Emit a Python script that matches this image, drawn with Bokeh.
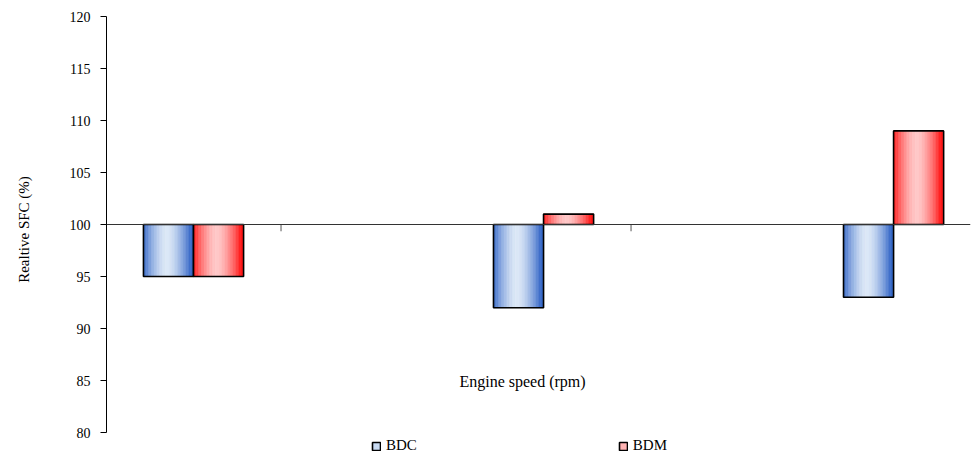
import numpy as np
from bokeh.plotting import figure
from bokeh.models import (Range1d, FixedTicker, Legend, LegendItem,
                          Label, ColumnDataSource, Span)
from bokeh.embed import file_html
from bokeh.resources import INLINE

# ---- data ----
categories = ["1", "2", "3"]          # engine speed groups (no labels shown)
bdc = [95, 92, 93]
bdm = [95, 101, 109]
baseline = 100
y_ticks = [80, 85, 90, 95, 100, 105, 110, 115, 120]
series_names = ["BDC", "BDM"]

FONT = "Liberation Serif"
BAR_W = 0.143
N_STRIPS = 32

# frame covers the whole page height; the y axis itself is bounded to 80..120
p = figure(width=973, height=458, output_backend="svg", toolbar_location=None,
           x_range=Range1d(-0.2486, 2.2198), y_range=Range1d(77.5, 121.54),
           x_axis_location=None, min_border_left=106, min_border_right=3,
           min_border_top=0, min_border_bottom=0)
p.outline_line_color = None
p.grid.visible = False
p.background_fill_color = "white"

# y axis
ya = p.yaxis[0]
ya.bounds = (y_ticks[0], y_ticks[-1])
ya.ticker = FixedTicker(ticks=y_ticks)
ya.minor_tick_line_color = None
ya.major_tick_in = 0
ya.major_tick_out = 6
ya.major_label_standoff = 10
ya.axis_line_color = "black"
ya.major_tick_line_color = "black"
ya.major_label_text_font = FONT
ya.major_label_text_font_size = "14px"
ya.major_label_text_color = "black"
ya.axis_label = "Realtive SFC (%)"
ya.axis_label_text_font = FONT
ya.axis_label_text_font_size = "15px"
ya.axis_label_text_font_style = "normal"
ya.axis_label_text_color = "black"
ya.axis_label_standoff = 35

# horizontal category axis crossing at 100
p.add_layout(Span(location=baseline, dimension="width", line_color="#333333",
                  line_width=1))
cat_ticks = [i + 0.25 for i in range(len(categories) - 1)]
p.segment(x0=cat_ticks, x1=cat_ticks, y0=[baseline] * len(cat_ticks),
          y1=[baseline - 0.65] * len(cat_ticks), line_color="#555555", line_width=1)


def mix(c1, c2, f):
    return "#%02x%02x%02x" % tuple(int(round(a + (b - a) * f)) for a, b in zip(c1, c2))


def profile(t):
    # light in the middle, dark at both edges
    d = abs(t - 0.47) / 0.47
    return float(np.clip(1.0 - d ** 1.6, 0, 1))


grads = {
    "BDC": ((55, 105, 200), (220, 232, 247)),
    "BDM": ((255, 25, 25), (255, 200, 200)),
}
offsets = {"BDC": -BAR_W / 2, "BDM": BAR_W / 2}
values = {"BDC": bdc, "BDM": bdm}
legend_fill = {"BDC": "#c9dbf3", "BDM": "#ffb3b3"}

legend_items = []
for name in series_names:
    dark, light = grads[name]
    xs, tops, ws, cols = [], [], [], []
    for i, v in enumerate(values[name]):
        c = i + offsets[name]
        for k in range(N_STRIPS):
            t = (k + 0.5) / N_STRIPS
            xs.append(c - BAR_W / 2 + t * BAR_W)
            tops.append(v)
            ws.append(BAR_W / N_STRIPS)
            cols.append(mix(dark, light, profile(t)))
    src = ColumnDataSource(dict(x=xs, top=tops, w=ws, c=cols))
    p.vbar(x="x", top="top", bottom=baseline, width="w", source=src,
           fill_color="c", line_color="c", line_width=0.6)
    xc = [i + offsets[name] for i in range(len(categories))]
    p.vbar(x=xc, top=values[name], bottom=baseline, width=BAR_W,
           fill_color=None, line_color="black", line_width=1.6)
    # legend-only renderer (no visible bar)
    r = p.vbar(x=[float("nan")], top=[float("nan")], bottom=baseline, width=BAR_W,
               fill_color=legend_fill[name], line_color="black", line_width=1.6)
    legend_items.append(LegendItem(label=name, renderers=[r]))

legend = Legend(items=legend_items, orientation="horizontal", location=(265, 4),
                glyph_width=10, glyph_height=10, label_standoff=5, spacing=201,
                padding=0, margin=0, border_line_color=None,
                background_fill_alpha=0, label_text_font=FONT,
                label_text_font_size="15px", label_height=15,
                label_text_color="black")
p.add_layout(legend, "center")

p.add_layout(Label(x=0.94, y=84.9, text="Engine speed (rpm)", text_font=FONT,
                   text_font_size="16px", text_align="center",
                   text_baseline="middle", text_color="black"))

open("out.html", "w").write(file_html(p, INLINE))
